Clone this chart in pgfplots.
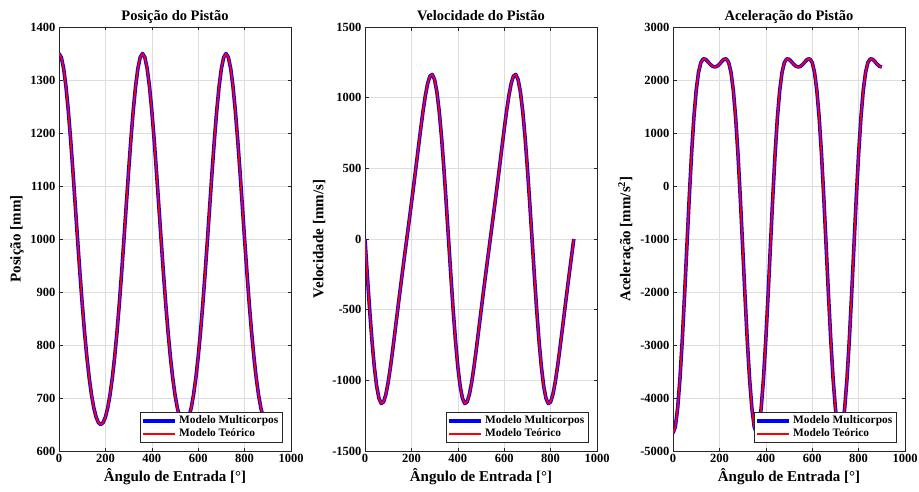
\documentclass[border=0pt]{standalone}
\usepackage{fontspec}
\setmainfont{Liberation Serif}
\usepackage{pgfplots}
\usepackage{pgfplotstable}
\pgfplotsset{compat=1.18}
\definecolor{axgray}{gray}{0.15}
\definecolor{gridgray}{gray}{0.87}

\pgfplotstableread{
t x v a
0 1350 0 -4663.4
10 1342.83 -256.87 -4544.5
20 1321.70 -500.65 -4194.5
30 1287.68 -719.04 -3634.7
40 1242.47 -901.29 -2900.4
50 1188.37 -1038.99 -2042.7
60 1127.96 -1127.1 -1124.9
70 1064.08 -1164.2 -218.9
80 999.50 -1152.9 605.2
90 936.75 -1099.6 1290.7
100 877.94 -1012.7 1805.0
110 824.66 -902.3 2144.1
120 777.96 -777.4 2329.4
130 738.41 -645.6 2398.2
140 706.25 -512.3 2391.9
150 681.46 -380.5 2348.5
160 663.92 -251.5 2297.5
170 653.47 -125.0 2259.3
180 650 0 2245.3
190 653.47 125.0 2259.3
200 663.92 251.5 2297.5
210 681.46 380.5 2348.5
220 706.25 512.3 2391.9
230 738.41 645.6 2398.2
240 777.96 777.4 2329.4
250 824.66 902.3 2144.1
260 877.94 1012.7 1805.0
270 936.75 1099.6 1290.7
280 999.50 1152.9 605.2
290 1064.08 1164.2 -218.9
300 1127.96 1127.1 -1124.9
310 1188.37 1038.99 -2042.7
320 1242.47 901.29 -2900.4
330 1287.68 719.04 -3634.7
340 1321.70 500.65 -4194.5
350 1342.83 256.87 -4544.5
360 1350 0 -4663.4
370 1342.83 -256.87 -4544.5
380 1321.70 -500.65 -4194.5
390 1287.68 -719.04 -3634.7
400 1242.47 -901.29 -2900.4
410 1188.37 -1038.99 -2042.7
420 1127.96 -1127.1 -1124.9
430 1064.08 -1164.2 -218.9
440 999.50 -1152.9 605.2
450 936.75 -1099.6 1290.7
460 877.94 -1012.7 1805.0
470 824.66 -902.3 2144.1
480 777.96 -777.4 2329.4
490 738.41 -645.6 2398.2
500 706.25 -512.3 2391.9
510 681.46 -380.5 2348.5
520 663.92 -251.5 2297.5
530 653.47 -125.0 2259.3
540 650 0 2245.3
550 653.47 125.0 2259.3
560 663.92 251.5 2297.5
570 681.46 380.5 2348.5
580 706.25 512.3 2391.9
590 738.41 645.6 2398.2
600 777.96 777.4 2329.4
610 824.66 902.3 2144.1
620 877.94 1012.7 1805.0
630 936.75 1099.6 1290.7
640 999.50 1152.9 605.2
650 1064.08 1164.2 -218.9
660 1127.96 1127.1 -1124.9
670 1188.37 1038.99 -2042.7
680 1242.47 901.29 -2900.4
690 1287.68 719.04 -3634.7
700 1321.70 500.65 -4194.5
710 1342.83 256.87 -4544.5
720 1350 0 -4663.4
730 1342.83 -256.87 -4544.5
740 1321.70 -500.65 -4194.5
750 1287.68 -719.04 -3634.7
760 1242.47 -901.29 -2900.4
770 1188.37 -1038.99 -2042.7
780 1127.96 -1127.1 -1124.9
790 1064.08 -1164.2 -218.9
800 999.50 -1152.9 605.2
810 936.75 -1099.6 1290.7
820 877.94 -1012.7 1805.0
830 824.66 -902.3 2144.1
840 777.96 -777.4 2329.4
850 738.41 -645.6 2398.2
860 706.25 -512.3 2391.9
870 681.46 -380.5 2348.5
880 663.92 -251.5 2297.5
890 653.47 -125.0 2259.3
900 650 0 2245.3
}\data

\pgfplotsset{
  matstyle/.style={
    scale only axis,
    width=232pt, height=424pt,
    anchor=south west,
    xmin=0, xmax=1000,
    xtick={0,200,...,1000},
    axis line style={axgray, line width=0.6pt},
    every tick/.style={axgray, line width=0.5pt},
    major tick length=3.5pt,
    tick align=inside,
    grid=major,
    grid style={gridgray, line width=0.5pt},
    /pgf/number format/assume math mode=true,
    /pgf/number format/1000 sep={},
    tick label style={font=\fontsize{12.5}{14}\selectfont\bfseries, text=black},
    label style={font=\fontsize{15}{17}\selectfont\bfseries},
    every axis title/.style={font=\fontsize{14.5}{16}\selectfont\bfseries,
      at={(axis description cs:0.5,1.0153)}, anchor=base},
    xlabel={Ângulo de Entrada [°]},
    every axis x label/.style={at={(axis description cs:0.5,-0.072)}, anchor=base,
      font=\fontsize{15}{17}\selectfont\bfseries},
    every axis y label/.append style={font=\fontsize{15}{17}\selectfont\bfseries},
    legend style={at={(0.961,0.021)}, anchor=south east, draw=axgray, fill=white,
      font=\fontsize{11.4}{13}\selectfont\bfseries,
      inner sep=1.5pt, row sep=-0.5pt},
    legend cell align=left,
    legend image code/.code={\draw[#1] (0pt,0pt) -- (32pt,0pt);},
  },
  blueline/.style={blue, line width=3.6pt, line join=round},
  redline/.style={red, line width=1.7pt, line join=round},
}

\begin{document}
\begin{tikzpicture}
\useasboundingbox (0pt,0pt) rectangle (919pt,491pt);

\begin{axis}[matstyle, at={(59pt,40pt)},
  ymin=600, ymax=1400, ytick={600,700,...,1400},
  title={Posição do Pistão},
  ylabel={Posição [mm]},
]
\addplot[blueline] table[x=t, y=x] {\data};
\addplot[redline] table[x=t, y=x] {\data};
\legend{Modelo Multicorpos, Modelo Teórico}
\end{axis}

\begin{axis}[matstyle, at={(365pt,40pt)},
  ymin=-1500, ymax=1500, ytick={-1500,-1000,...,1500},
  title={Velocidade do Pistão},
  ylabel={Velocidade [mm/s]},
]
\addplot[blueline] table[x=t, y=v] {\data};
\addplot[redline] table[x=t, y=v] {\data};
\legend{Modelo Multicorpos, Modelo Teórico}
\end{axis}

\begin{axis}[matstyle, at={(673pt,40pt)},
  ymin=-5000, ymax=3000, ytick={-5000,-4000,...,3000},
  title={Aceleração do Pistão},
  ylabel={Aceleração [mm/s\textsuperscript{2}]},
]
\addplot[blueline] table[x=t, y=a] {\data};
\addplot[redline] table[x=t, y=a] {\data};
\legend{Modelo Multicorpos, Modelo Teórico}
\end{axis}
\end{tikzpicture}
\end{document}
